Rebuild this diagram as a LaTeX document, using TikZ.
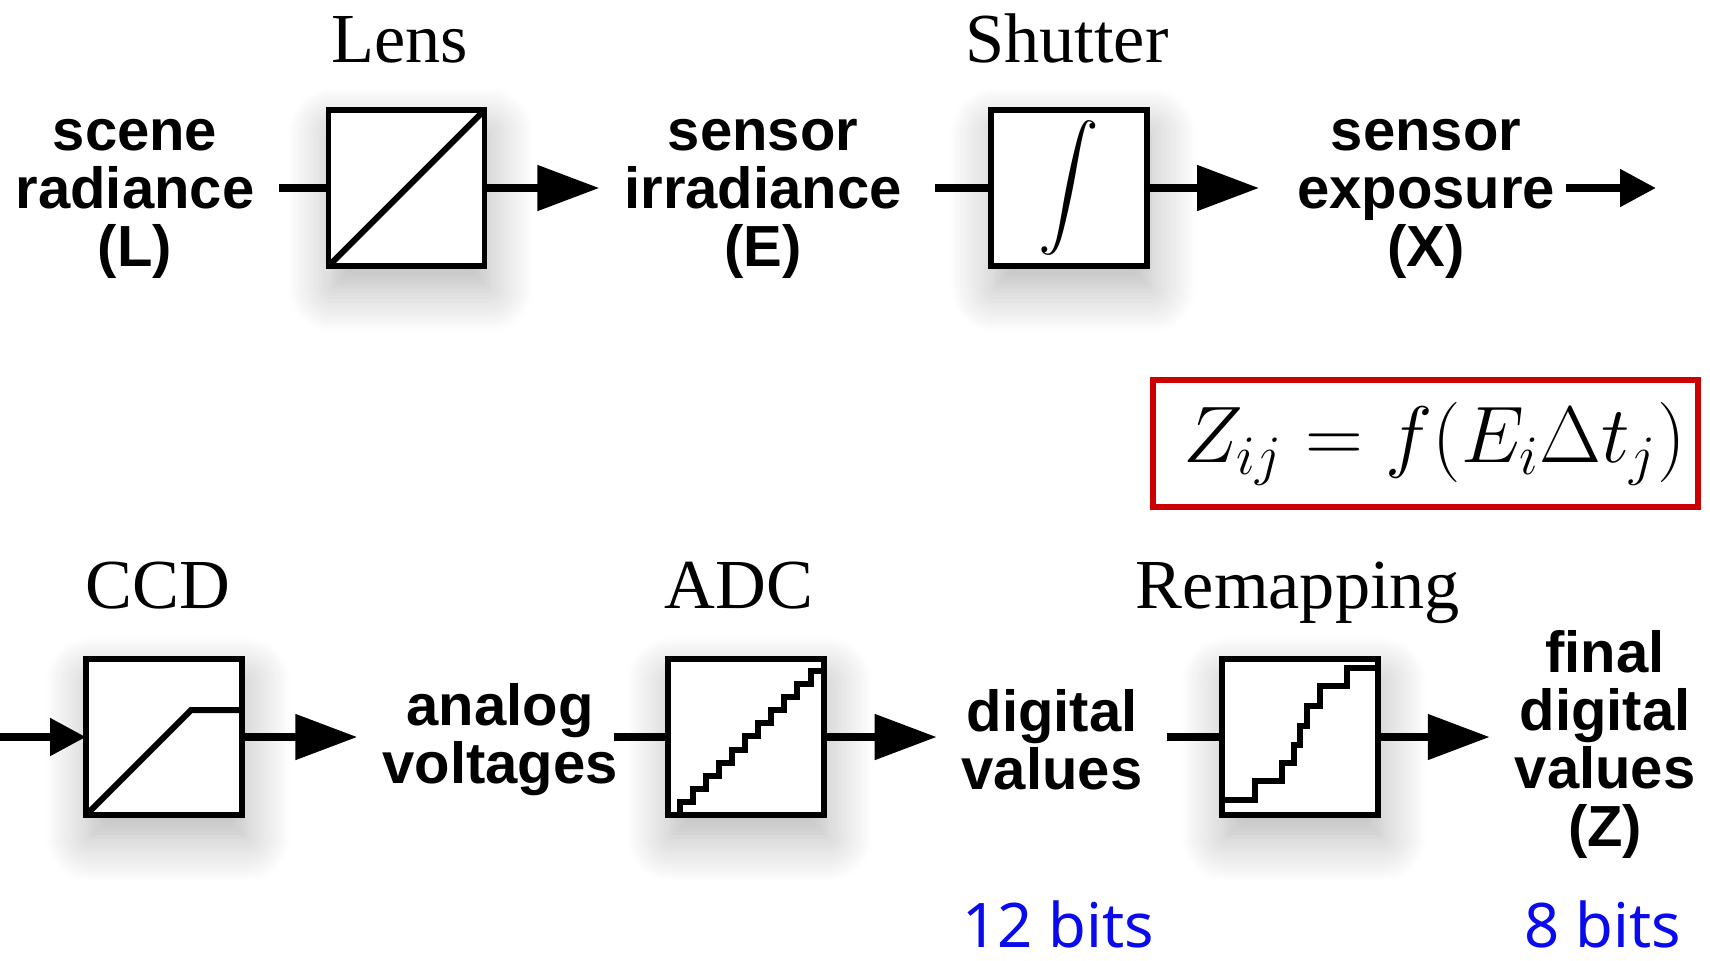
\documentclass[tikz,border=0pt]{standalone}
\usepackage{amsmath}
\usepackage{fontspec}
\setmainfont{Liberation Serif}
\newfontfamily\blocksans{Liberation Sans}
\newfontfamily\bitsans{Noto Sans}
\usetikzlibrary{arrows.meta,positioning,shadows.blur}
\definecolor{eqred}{HTML}{CC0000}
\definecolor{bitblue}{HTML}{0A0AEE}

\begin{document}
\begin{tikzpicture}[
    blk/.style={draw=black,line width=1.7pt,fill=white,minimum size=1.56cm,inner sep=0pt,outer sep=0pt,
      blur shadow={shadow xshift=0.4mm,shadow yshift=-2.2mm,shadow opacity=30,shadow blur radius=4.5mm,shadow blur steps=14}},
    qty/.style={font=\blocksans\bfseries\fontsize{16.5}{16.5}\selectfont,align=center,inner sep=0pt,outer sep=0.25cm},
    lbl/.style={font=\fontsize{20}{22}\selectfont,anchor=base,inner sep=0pt},
    bits/.style={font=\bitsans\fontsize{17.5}{19}\selectfont,text=bitblue,anchor=base,inner sep=0pt},
    wire/.style={line width=2.3pt},
    arr/.style={wire,-{Triangle[length=6.2mm,width=4.4mm]}},
    sarr/.style={wire,-{Triangle[length=3.6mm,width=3.6mm]}},
    curve/.style={line width=1.7pt,line join=miter}
  ]
  \useasboundingbox (0,0) rectangle (17.1,-9.6);

  % top row: optics
  \node[qty] (scene) at (1.35,-1.99) {scene\\radiance\\(L)};
  \node[blk] (lens) at (4.065,-1.88) {};
  \node[qty] (irrad) at (7.63,-1.99) {sensor\\irradiance\\(E)};
  \node[blk] (shutter) at (10.69,-1.88) {\fontsize{16}{16}\selectfont$\displaystyle\int$};
  \node[qty] (expo) at (14.26,-1.99) {sensor\\exposure\\(X)};
  \coordinate (xout) at (16.56,-1.88);

  \node[lbl] (lensLbl) at (4.00,-0.62) {Lens};
  \node[lbl] (shutLbl) at (10.67,-0.62) {Shutter};

  \draw[curve] (lens.south west) -- (lens.north east);

  \draw[wire] (scene.east |- lens) -- (lens);
  \draw[arr] (lens) -- (irrad.west |- lens);
  \draw[wire,shorten <=0.08cm] (irrad.east |- shutter) -- (shutter);
  \draw[arr,shorten >=0.13cm] (shutter) -- (expo.west |- shutter);
  \draw[sarr,shorten <=-0.14cm] (expo.east |- xout) -- (xout);

  % bottom row: electronics
  \coordinate (ccdIn) at (0,-7.37);
  \node[blk] (ccd) at (1.64,-7.37) {};
  \node[qty] (analog) at (5.00,-7.40) {analog\\voltages};
  \node[blk] (adc) at (7.455,-7.37) {};
  \node[qty] (digital) at (10.52,-7.40) {digital\\values};
  \node[blk] (remap) at (13.00,-7.37) {};
  \node[qty] (final) at (16.05,-7.44) {final\\digital\\values\\(Z)};

  \node[lbl] (ccdLbl) at (1.58,-6.08) {CCD};
  \node[lbl] (adcLbl) at (7.39,-6.08) {ADC};
  \node[lbl] (remapLbl) at (12.98,-6.08) {Remapping};

  \begin{scope}[shift={(ccd.south west)}]
    \draw[curve] (0,0) -- (1.05,1.05) -- (1.56,1.05);
  \end{scope}
  \begin{scope}[shift={(adc.south west)}]
    \draw[curve] (0.12,0) \foreach \k in {1,...,11}{ -- ++(0,0.131) -- ++(0.131,0)};
  \end{scope}
  \begin{scope}[shift={(remap.south west)}]
    \draw[curve] (0,0.15) -| (0.33,0.34) -| (0.60,0.52) -| (0.72,0.70) -| (0.78,0.89)
      -| (0.85,1.09) -| (0.98,1.29) -| (1.25,1.47) -- (1.56,1.47);
  \end{scope}

  \draw[sarr] (ccdIn) -- (ccd);
  \draw[arr] (ccd) -- (analog.west |- ccd);
  \draw[wire,shorten <=-0.29cm] (analog.east |- adc) -- (adc);
  \draw[arr] (adc) -- (digital.west |- adc);
  \draw[wire] (digital.east |- remap) -- (remap);
  \draw[arr] (remap) -- (final.west |- remap);

  % response equation and bit depths
  \node[draw=eqred,line width=1.7pt,minimum width=5.45cm,minimum height=1.27cm,inner sep=0pt] (eq)
    at (14.255,-4.435) {\hspace{0.18cm}\scalebox{1.1}{\fontsize{20.74}{22}\selectfont$Z_{ij} = f(E_i\Delta t_j)$}};
  \node[bits] (bits12) at (10.58,-9.47) {12 bits};
  \node[bits] (bits8) at (16.03,-9.47) {8 bits};
\end{tikzpicture}
\end{document}
